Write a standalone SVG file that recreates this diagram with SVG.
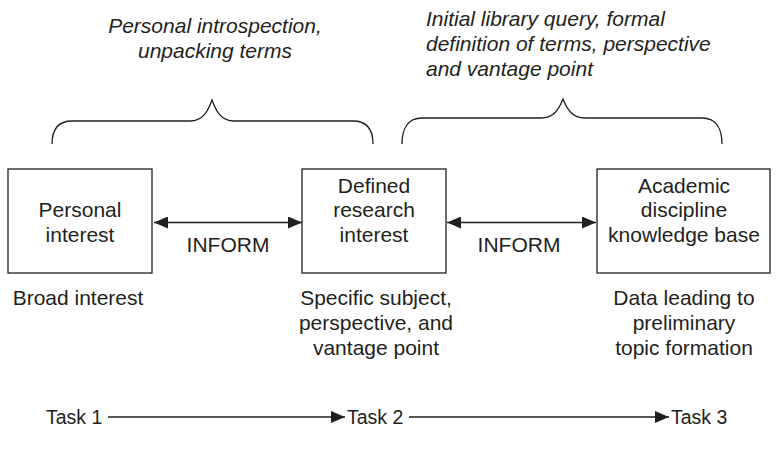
<svg xmlns="http://www.w3.org/2000/svg" width="779" height="459" viewBox="0 0 779 459">
<style>
text{font-family:"Liberation Sans",Arial,Helvetica,sans-serif;font-size:21px;fill:#231f20}
.it{font-style:italic}
.c{text-anchor:middle}
.tk{font-size:19.5px}
.box{fill:#fff;stroke:#231f20;stroke-width:1.3}
.ln{fill:none;stroke:#231f20;stroke-width:1.3}
.br{fill:none;stroke:#231f20;stroke-width:1.3}
</style>
<defs>
<marker id="ah" viewBox="0 0 14 12" refX="14" refY="6" markerWidth="14" markerHeight="12" markerUnits="userSpaceOnUse" orient="auto-start-reverse">
<path d="M0,0 L14,6 L0,12 z" fill="#231f20"/>
</marker>
</defs>
<rect width="779" height="459" fill="#fff"/>
<g id="annot1">
<text class="it c" x="215" y="33">Personal introspection,</text>
<text class="it c" x="215" y="58">unpacking terms</text>
<path class="br" d="M52,144 C52,131 57,121 72,121 L190,121 C203,121 208,111 212,100 C216,111 221,121 234,121 L353,121 C368,121 373,131 373,144"/>
</g>
<g id="annot2">
<text class="it" x="426" y="26">Initial library query, formal</text>
<text class="it" x="426" y="51">definition of terms, perspective</text>
<text class="it" x="426" y="76">and vantage point</text>
<path class="br" d="M402,144 C402,130 407,118 422,118 L541,118 C554,118 559,109 563,99 C567,109 572,118 585,118 L702,118 C717,118 722,130 722,144"/>
</g>
<g id="n1">
<rect class="box" x="8" y="169" width="144" height="104"/>
<text class="c" x="80" y="217">Personal</text>
<text class="c" x="80" y="242">interest</text>
<text class="c" x="78" y="305">Broad interest</text>
</g>
<g id="n2">
<rect class="box" x="302" y="169" width="144" height="104"/>
<text class="c" x="374" y="193">Defined</text>
<text class="c" x="374" y="217">research</text>
<text class="c" x="374" y="242">interest</text>
<text class="c" x="376" y="305">Specific subject,</text>
<text class="c" x="376" y="330">perspective, and</text>
<text class="c" x="376" y="355">vantage point</text>
</g>
<g id="n3">
<rect class="box" x="597" y="169" width="173" height="104"/>
<text class="c" x="684" y="193">Academic</text>
<text class="c" x="684" y="217">discipline</text>
<text class="c" x="684" y="242">knowledge base</text>
<text class="c" x="684" y="305">Data leading to</text>
<text class="c" x="684" y="330">preliminary</text>
<text class="c" x="684" y="355">topic formation</text>
</g>
<g id="tasks">
<text class="tk" x="46" y="424">Task 1</text>
<text class="tk" x="347" y="424">Task 2</text>
<text class="tk" x="671" y="424">Task 3</text>
</g>
<g id="connectors">
<line class="ln" x1="108" y1="417" x2="345" y2="417" marker-end="url(#ah)"/>
<line class="ln" x1="409" y1="417" x2="669" y2="417" marker-end="url(#ah)"/>
<line class="ln" x1="154" y1="222.5" x2="302" y2="222.5" marker-start="url(#ah)" marker-end="url(#ah)"/>
<text class="c" x="228" y="252">INFORM</text>
<line class="ln" x1="447" y1="222.5" x2="596" y2="222.5" marker-start="url(#ah)" marker-end="url(#ah)"/>
<text class="c" x="519" y="252">INFORM</text>
</g>
</svg>
